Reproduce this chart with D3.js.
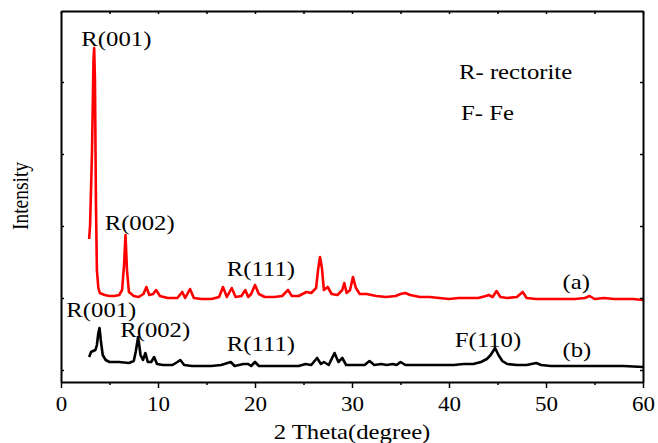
<!DOCTYPE html>
<html>
<head>
<meta charset="utf-8">
<script src="https://cdn.jsdelivr.net/npm/d3@7"></script>
<style>
  body { margin: 0; background: #fff; }
  svg text { font-family: "Liberation Serif", "DejaVu Serif", serif !important; fill: #000; }
</style>
</head>
<body>
<svg id="xrd" width="658" height="443"></svg>
<script>
// 2 theta (degree) / intensity (a.u.)
const thetaA = [2.9, 3.0, 3.2, 3.35, 3.42, 3.5, 3.6, 3.7, 3.85, 4.0, 4.5, 5.0, 5.5, 6.0, 6.3, 6.5, 6.65, 6.8, 7.0, 7.5,
  8.0, 8.5, 8.8, 9.1, 9.5, 9.8, 10.2, 11, 12, 12.5, 12.8, 13.3, 13.7, 14.5, 15.5, 16.3, 16.7, 17.1, 17.6, 18.0,
  18.6, 19.0, 19.3, 19.6, 20.0, 20.4, 21, 22, 22.8, 23.4, 23.8, 24.5, 25.3, 25.8, 26.3, 26.5, 26.7, 26.9, 27.1, 27.5,
  27.9, 28.5, 29.0, 29.2, 29.45, 29.8, 30.1, 30.4, 30.8, 31.5, 32.5, 33.5, 34.5, 35.0, 35.5, 36.0, 37, 38, 39, 40,
  41, 42, 43, 43.8, 44.1, 44.5, 44.9, 45.3, 46, 47, 47.6, 48.0, 49, 50, 51, 52, 53, 54, 54.5, 55,
  56, 57, 58, 59, 60];
const intensityA = [143, 157, 232, 322, 334, 302, 182, 112, 94, 89, 87, 86, 86, 87, 92, 117, 147, 112, 90, 86,
  85, 88, 95, 87, 88, 92, 86, 84, 84, 90, 84, 93, 84, 83, 83, 85, 95, 85, 94, 85,
  86, 92, 85, 88, 97, 88, 85, 85, 86, 92, 86, 86, 90, 89, 94, 112, 125, 114, 92, 95,
  88, 87, 92, 99, 89, 92, 105, 94, 88, 88, 86, 85, 86, 88, 89, 87, 85, 85, 84, 83,
  84, 84, 84, 86, 87, 85, 91, 85, 84, 85, 90, 84, 83, 83, 83, 83, 83, 84, 86, 83,
  84, 83, 83, 83, 82];

const thetaB = [2.9, 3.1, 3.3, 3.55, 3.7, 3.85, 3.97, 4.1, 4.3, 4.6, 5.0, 6, 7, 7.5, 7.7, 7.95, 8.2, 8.45, 8.7, 8.95,
  9.3, 9.6, 9.9, 10.5, 11.5, 12.0, 12.3, 12.7, 13.5, 14.5, 15.5, 16.5, 17.5, 17.9, 18.8, 19.3, 19.6, 20.0, 20.4, 21.5,
  22.5, 23.5, 24.5, 25.2, 25.8, 26.4, 26.8, 27.1, 27.6, 28.2, 28.6, 29.0, 29.4, 30.5, 31.3, 31.8, 32.3, 33.0, 33.6, 34.2,
  34.6, 35.0, 35.5, 36.5, 37.5, 38.5, 39.5, 40.5, 41.5, 42.5, 43.3, 43.9, 44.3, 44.75, 45.1, 45.5, 46, 47, 48, 49,
  49.5, 50.5, 52, 53.5, 55, 56.5, 58, 60];
const intensityB = [25, 30, 31, 32, 37, 49, 54, 42, 27, 22, 20, 20, 19, 21, 30, 45, 27, 22, 29, 20,
  20, 25, 18, 17, 17, 20, 22, 17, 16, 16, 16, 17, 20, 16, 18, 18, 16, 20, 16, 16,
  16, 16, 16, 18, 17, 24, 18, 20, 17, 29, 20, 24, 17, 17, 17, 21, 17, 18, 17, 18,
  17, 20, 17, 17, 17, 17, 17, 17, 18, 18, 20, 23, 27, 34, 27, 21, 18, 17, 17, 19,
  17, 16, 16, 16, 16, 16, 16, 15];

const xTicks = [0, 10, 20, 30, 40, 50, 60];
const xMinor = [5, 15, 25, 35, 45, 55];
const yTicks = [12, 84, 156, 228, 300];

// peak labels: [text, theta, intensity]
const labelsA = [["R(001)", 2.1, 336], ["R(002)", 4.5, 152], ["R(111)", 17.1, 106], ["(a)", 51.7, 93]];
const labelsB = [["R(001)", 0.55, 65], ["R(002)", 6.1, 45], ["R(111)", 17.1, 31], ["F(110)", 40.6, 35], ["(b)", 51.7, 25]];

const serif = "Liberation Serif, DejaVu Serif, serif";
const svg = d3.select("#xrd").attr("font-family", serif);
const margin = {top: 11, left: 61},
  width = 582, height = 371;
const g = svg.append("g").attr("transform", "translate(" + margin.left + "," + margin.top + ")");

const x = d3.scaleLinear().domain([0, 60]).range([0, width]);
const y = d3.scaleLinear().domain([0, 371]).range([height, 0]);

const stretch = "scale(1.15,1)";

// curves
const line = d3.line().x(d => x(d[0])).y(d => y(d[1]));
g.append("path")
  .datum(d3.zip(thetaB, intensityB))
  .attr("d", line)
  .attr("fill", "none").attr("stroke", "#000").attr("stroke-width", 2.6).attr("stroke-linejoin", "round");
g.append("path")
  .datum(d3.zip(thetaA, intensityA))
  .attr("d", line)
  .attr("fill", "none").attr("stroke", "#ff0000").attr("stroke-width", 2.6).attr("stroke-linejoin", "round");

// axes
let bottom = g.append("g").attr("transform", "translate(0," + height + ")")
  .call(d3.axisBottom(x).tickValues(xTicks).tickSize(6).tickSizeOuter(0))
  .attr("font-family", serif);
bottom.selectAll("text").attr("y", 29).attr("dy", 0).attr("font-size", 20).attr("transform", stretch);
g.append("g").attr("transform", "translate(0," + height + ")")
  .call(d3.axisBottom(x).tickValues(xMinor).tickSize(3).tickFormat(""))
  .select(".domain").remove();

g.append("g").call(d3.axisBottom(x).tickValues(xTicks.concat(xMinor)).tickSize(3).tickSizeOuter(0).tickFormat(""));
g.append("g").call(d3.axisRight(y).tickValues(yTicks).tickSize(3).tickSizeOuter(0).tickFormat(""));
g.append("g").attr("transform", "translate(" + width + ",0)")
  .call(d3.axisLeft(y).tickValues(yTicks).tickSize(3).tickSizeOuter(0).tickFormat(""));

g.selectAll(".domain").attr("stroke-width", 2);
g.selectAll(".tick line").attr("stroke-width", 1.5);

// axis titles
svg.append("text")
  .attr("transform", "translate(" + (margin.left + width / 2) + ",439) " + stretch)
  .attr("text-anchor", "middle").attr("font-size", 21.5)
  .text("2 Theta(degree)");
svg.append("text")
  .attr("transform", "translate(28," + 196 + ") " + stretch + " rotate(-90)")
  .attr("text-anchor", "middle").attr("font-size", 19.5)
  .text("Intensity");

// peak labels
const addLabels = (list) => {
  list.forEach(l => {
    g.append("text")
      .attr("transform", "translate(" + x(l[1]) + "," + y(l[2]) + ") " + stretch)
      .attr("font-size", 21.5)
      .text(l[0]);
  });
};
addLabels(labelsA);
addLabels(labelsB);

// key
g.append("text").attr("transform", "translate(398,68) " + stretch).attr("font-size", 21.5).text("R- rectorite");
g.append("text").attr("transform", "translate(400,109) " + stretch).attr("font-size", 21.5).text("F- Fe");
</script>
</body>
</html>
